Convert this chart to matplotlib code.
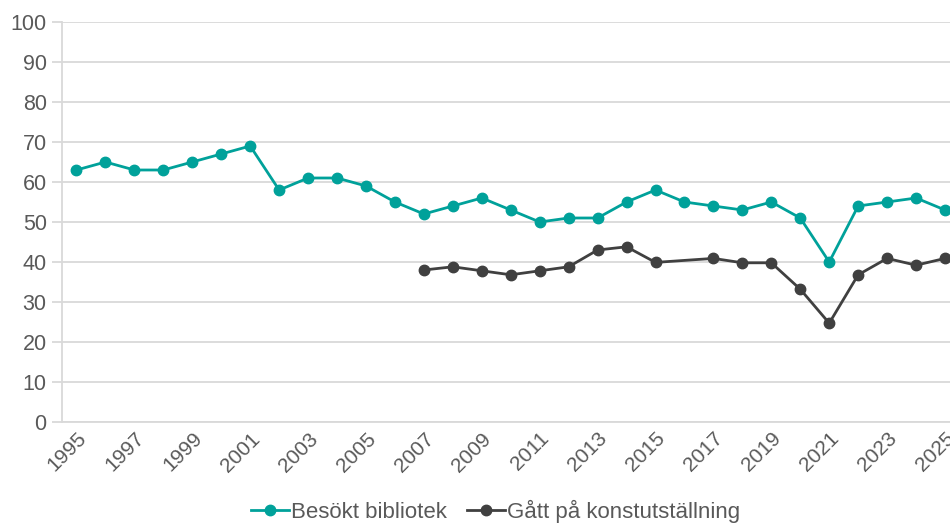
import matplotlib
matplotlib.use("Agg")
import matplotlib.pyplot as plt

years = list(range(1995, 2026))
bibliotek = [63, 65, 63, 63, 65, 67, 69, 58, 61, 61, 59, 55, 52, 54, 56, 53, 50, 51, 51,
             55, 58, 55, 54, 53, 55, 51, 40, 54, 55, 56, 53]
konst_years = [2007, 2008, 2009, 2010, 2011, 2012, 2013, 2014, 2015, 2017, 2018, 2019,
               2020, 2021, 2022, 2023, 2024, 2025]
konst = [38, 38.8, 37.8, 36.8, 37.8, 38.8, 43, 43.8, 39.9, 40.9, 39.8, 39.8,
         33.2, 24.7, 36.8, 40.9, 39.2, 40.9]
xtick_years = list(range(1995, 2026, 2))
yticks = list(range(0, 101, 10))

plt.rcParams['font.family'] = ['Liberation Sans', 'DejaVu Sans']
teal = '#00A19A'
dark = '#404040'
txt = '#595959'
grid = '#D9D9D9'

fig = plt.figure(figsize=(9.5, 5.27), dpi=100)
ax = fig.add_axes([62/950, 105/527, (959.5-62)/950, 400/527])

ax.plot(years, bibliotek, color=teal, lw=2.0, marker='o', ms=7.5, label='Besökt bibliotek', clip_on=False, zorder=3)
ax.plot(konst_years, konst, color=dark, lw=2.0, marker='o', ms=7.5, label='Gått på konstutställning', clip_on=False, zorder=3)

ax.set_xlim(1994.5, 2025.5)
ax.set_ylim(0, 100)
ax.set_yticks(yticks)
ax.set_xticks(xtick_years)
ax.set_xticklabels([str(y) for y in xtick_years], rotation=45, ha='right', rotation_mode='anchor')
ax.grid(axis='y', color=grid, lw=1.3)
ax.set_axisbelow(True)
for s in ['top', 'right']:
    ax.spines[s].set_visible(False)
for s in ['left', 'bottom']:
    ax.spines[s].set_color(grid)
    ax.spines[s].set_linewidth(1.3)
ax.tick_params(axis='y', colors=grid, labelcolor=txt, labelsize=15.5, length=7, width=1.3, pad=4)
ax.tick_params(axis='x', colors=grid, labelcolor=txt, labelsize=15, length=0, pad=5)

fig.legend(loc='center', bbox_to_anchor=(0.522, 0.03), ncol=2, frameon=False,
           fontsize=16, labelcolor=txt, handlelength=1.7, handletextpad=0.1, columnspacing=0.9,
           borderaxespad=0)

fig.savefig('out.png', dpi=100)
